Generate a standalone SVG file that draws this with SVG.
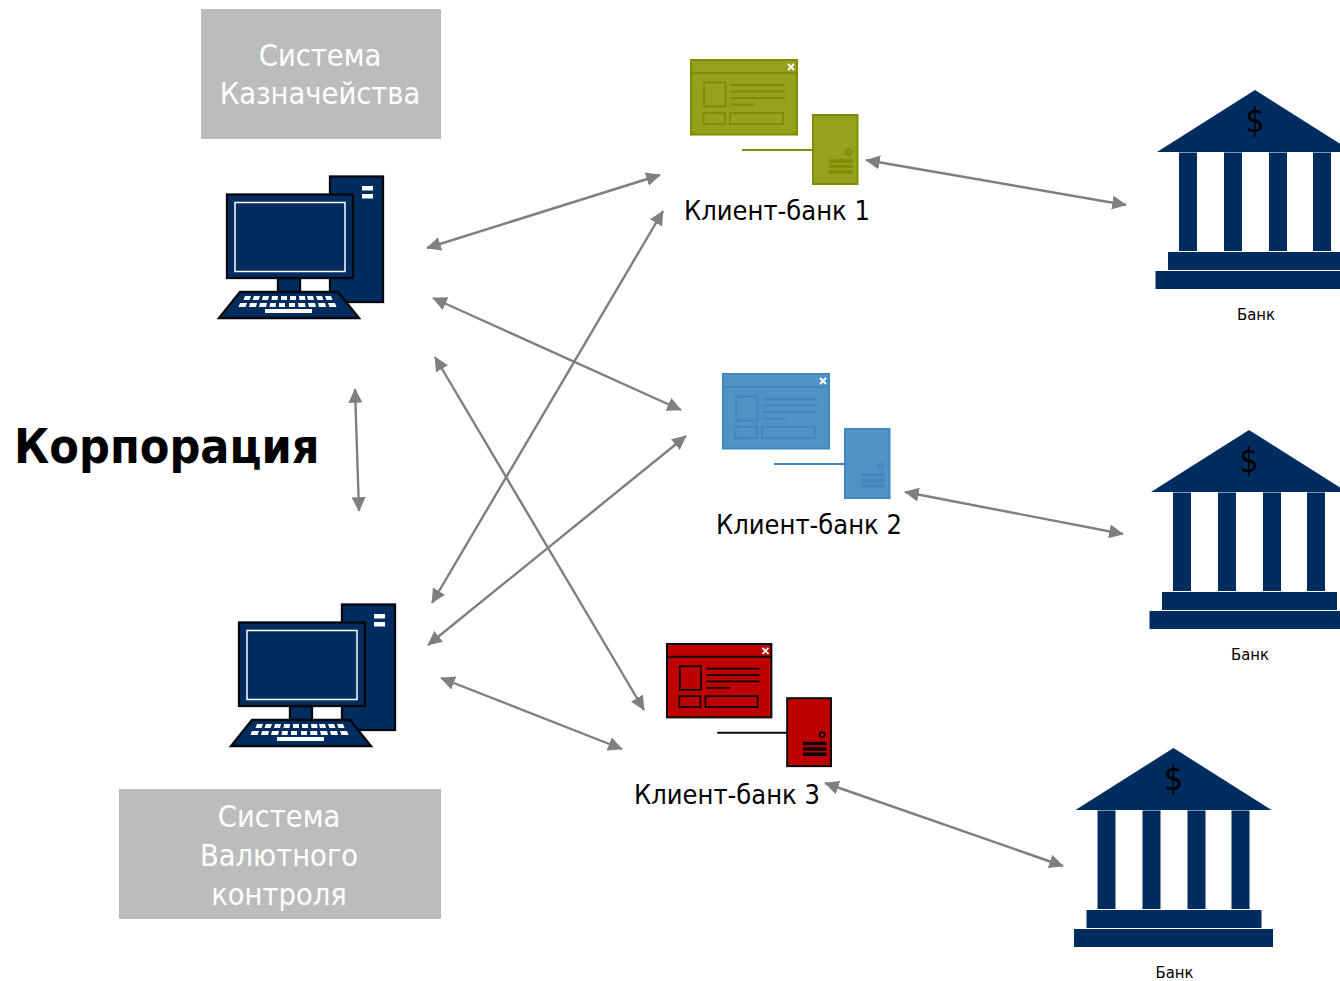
<svg xmlns="http://www.w3.org/2000/svg" width="1340" height="981" viewBox="0 0 1340 981">
<style>
text{font-family:"DejaVu Sans","Noto Sans",sans-serif;font-stretch:condensed}
.box{fill:#bcbcbc}
.boxt{fill:#fff;font-size:30.500px;text-anchor:middle}
.cb{fill:#000;font-size:27px;text-anchor:middle}
.bk{fill:#000;font-size:16.500px;text-anchor:middle}
.navy{fill:#002c5f}
.pc{stroke:#05070f;stroke-width:2.300}
.conn{fill:none;stroke:#7f7f7f;stroke-width:2.400;marker-start:url(#h);marker-end:url(#h)}
.key{fill:#fff}
.win{stroke:var(--s);stroke-width:2;fill:var(--f)}
.d{fill:none;stroke:var(--s);stroke-width:1.800}
</style>
<defs>
<marker id="h" viewBox="0 0 10 10" refX="9.500" refY="5" markerUnits="userSpaceOnUse" markerWidth="14.500" markerHeight="14" preserveAspectRatio="none" orient="auto-start-reverse"><path d="M0 0L10 5L0 10z" fill="#7f7f7f"/></marker>
<g id="pc">
<rect class="navy pc" x="330" y="176.500" width="53" height="125.500"/>
<rect x="362" y="186" width="11" height="4.500" fill="#fff"/><rect x="362" y="194" width="11" height="4.500" fill="#fff"/>
<rect class="navy pc" x="278" y="278" width="22" height="15"/>
<rect class="navy pc" x="227" y="194.500" width="126" height="83.500"/>
<rect x="235" y="202.500" width="110" height="69" fill="none" stroke="#fff" stroke-width="1.500"/>
<path class="navy pc" d="M240 292H338L359 318H219z"/>
<g class="key">
<path d="M245 296h6l-1.500 4h-6zM254 296h6l-1.500 4h-6zM263 296h6l-1 4h-6zM272 296h6l-.5 4h-6zM281 296h6v4h-6zM290 296h6v4h-6zM299 296h6l.5 4h-6zM307 296h6l1 4h-6zM316 296h6l1.500 4h-6zM325 296h6l1.500 4h-6z"/>
<path d="M240 303h7l-1.500 4h-7zM250 303h7l-1 4h-7zM260 303h7l-1 4h-7zM270 303h6l-.5 4h-6zM279 303h6v4h-6zM289 303h6v4h-6zM298 303h7l.5 4h-7zM308 303h7l1 4h-7zM318 303h7l1 4h-7zM328 303h7l1.500 4h-7z"/>
<rect x="265" y="309" width="47" height="4"/>
</g>
</g>
<g id="app">
<rect class="win" x="691" y="60" width="106" height="74.500"/>
<path d="M691 73H797" fill="none" stroke="var(--s)" stroke-width="2"/>
<path d="M788 64l6 6m0-6l-6 6" stroke="#fff" stroke-width="1.800" fill="none"/>
<rect class="d" x="704" y="82.500" width="21.500" height="24"/>
<path class="d" d="M731 85H785M731 91.500H785M731 98H785M731 104.500H755"/>
<rect class="d" x="703.500" y="113" width="21.500" height="11"/>
<rect class="d" x="730" y="113" width="53" height="11"/>
<rect class="win" x="813" y="115" width="44.500" height="69"/>
<path d="M742 150H813" fill="none" stroke="var(--s)" stroke-width="2"/>
<circle cx="848.500" cy="152" r="2.600" class="d"/>
<path d="M829 161H853M829 166.500H853M829 172H853" fill="none" stroke="var(--s)" stroke-width="3.600"/>
</g>
<g id="bank">
<path class="navy" d="M1255 90L1353 152H1157z"/>
<rect class="navy" x="1179" y="152.500" width="18" height="98.500"/>
<rect class="navy" x="1224" y="152.500" width="18" height="98.500"/>
<rect class="navy" x="1269" y="152.500" width="18" height="98.500"/>
<rect class="navy" x="1313" y="152.500" width="18" height="98.500"/>
<rect class="navy" x="1168" y="252" width="175" height="18"/>
<rect class="navy" x="1155.500" y="271" width="199" height="18"/>
<text x="1255" y="132" style="font-size:33px;text-anchor:middle;fill:#000">$</text>
<text class="bk" x="1256" y="320">Банк</text>
</g>
</defs>
<g id="sys-treasury"><rect class="box" x="201" y="9" width="240" height="130"/><text class="boxt" x="320" y="66">Система</text><text class="boxt" x="320" y="104">Казначейства</text></g>
<g id="sys-currency"><rect class="box" x="119" y="789" width="322" height="130"/><text class="boxt" x="279" y="827">Система</text><text class="boxt" x="279" y="866">Валютного</text><text class="boxt" x="279" y="905">контроля</text></g>
<g id="corp"><text x="14" y="463" style="font-size:48px;font-weight:700;fill:#000">Корпорация</text></g>
<g id="pc1"><use href="#pc"/></g>
<g id="pc2"><use href="#pc" transform="translate(12 428)"/></g>
<g id="client1" style="--s:#7f8c00;--f:#95a11f"><use href="#app"/><text class="cb" x="777" y="220">Клиент-банк 1</text></g>
<g id="client2" style="--s:#3f87bd;--f:#5093c4"><use href="#app" transform="translate(32 314)"/><text class="cb" x="809" y="534">Клиент-банк 2</text></g>
<g id="client3" style="--s:#0a0a0a;--f:#bf0000"><use href="#app" transform="translate(-13.650 584.900) scale(.985)"/><text class="cb" x="727" y="804">Клиент-банк 3</text></g>
<g id="bank1"><use href="#bank"/></g>
<g id="bank2"><use href="#bank" transform="translate(-6 340)"/></g>
<g id="bank3"><use href="#bank" transform="translate(-81.500 658)"/></g>
<g id="connectors">
<path class="conn" d="M427 248L660 175"/>
<path class="conn" d="M433 298L681 410"/>
<path class="conn" d="M435 357L644 710"/>
<path class="conn" d="M355 389L359 511"/>
<path class="conn" d="M432 603L663 211"/>
<path class="conn" d="M428 645L686 436"/>
<path class="conn" d="M441 678L622 749"/>
<path class="conn" d="M866 160L1126 205"/>
<path class="conn" d="M905 492L1123 534"/>
<path class="conn" d="M825 783L1063 866"/>
</g>
</svg>
